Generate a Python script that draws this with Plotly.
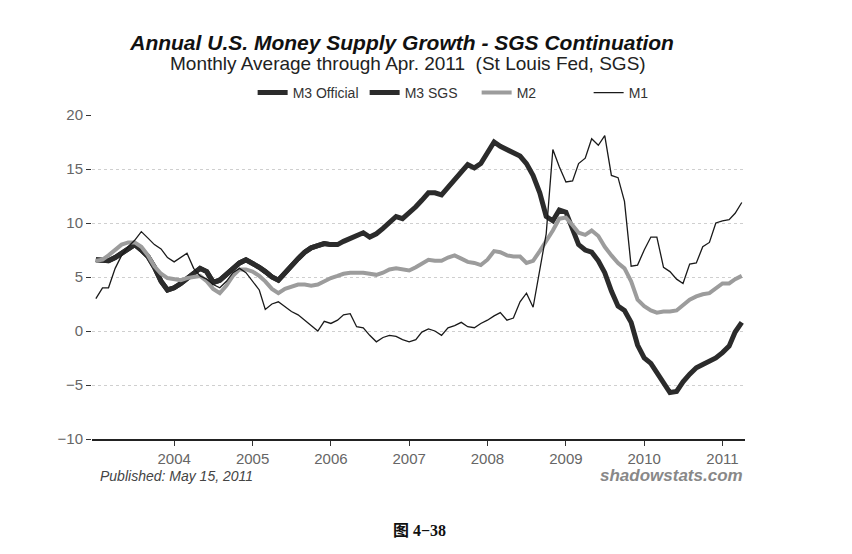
import pandas as pd
import plotly.graph_objects as go

# monthly, Jan 2003 .. Apr 2011, annual growth in percent
months = pd.date_range("2003-01-01", periods=100, freq="MS")

m3_sgs = [
    6.6, 6.5, 6.5, 6.8, 7.2, 7.7, 8.0, 7.5, 6.9, 5.9, 4.6, 3.8,
    4.0, 4.4, 4.9, 5.3, 5.8, 5.5, 4.5, 4.7, 5.2, 5.8, 6.3, 6.6,
    6.3, 5.9, 5.5, 5.0, 4.7, 5.4, 6.0, 6.7, 7.3, 7.7, 7.9, 8.1,
    8.0, 8.0, 8.3, 8.6, 8.8, 9.1, 8.7, 9.0, 9.5, 10.0, 10.6, 10.4,
    10.9, 11.5, 12.1, 12.8, 12.8, 12.6, 13.3, 14.0, 14.7, 15.4, 15.1, 15.5,
    16.5, 17.5, 17.1, 16.8, 16.5, 16.2, 15.5, 14.4, 12.8, 10.6, 10.2, 11.2,
    11.0, 9.4, 8.0, 7.5, 7.3, 6.5, 5.4, 3.7, 2.3, 1.9, 0.8, -1.3,
    -2.5, -3.0, -3.9, -4.9, -5.7, -5.6, -4.7, -4.0, -3.4, -3.1, -2.8, -2.5,
    -2.0, -1.4, -0.1, 0.8,
]
# official M3 was discontinued after Feb 2006
m3_official = m3_sgs[:38]

m2 = [
    6.5, 6.6, 7.0, 7.5, 8.0, 8.2, 8.2, 7.8, 7.0, 6.0, 5.3, 4.9,
    4.8, 4.7, 4.9, 5.0, 5.1, 4.6, 3.9, 3.5, 4.2, 5.1, 5.7, 5.7,
    5.5, 5.1, 4.6, 3.9, 3.5, 3.9, 4.1, 4.3, 4.3, 4.2, 4.3, 4.6,
    4.9, 5.1, 5.3, 5.4, 5.4, 5.4, 5.3, 5.2, 5.4, 5.7, 5.8, 5.7,
    5.6, 5.9, 6.2, 6.6, 6.5, 6.5, 6.8, 7.0, 6.7, 6.4, 6.3, 6.1,
    6.6, 7.4, 7.3, 7.0, 6.9, 6.9, 6.3, 6.5, 7.4, 8.3, 9.3, 10.4,
    10.5, 9.8, 9.1, 8.9, 9.3, 8.8, 7.8, 7.0, 6.3, 5.8, 4.6, 2.9,
    2.3, 1.9, 1.7, 1.8, 1.8, 1.9, 2.4, 2.9, 3.2, 3.4, 3.5, 4.0,
    4.4, 4.4, 4.8, 5.1,
]

m1 = [
    3.0, 4.0, 4.0, 5.8, 7.0, 7.8, 8.4, 9.2, 8.6, 8.0, 7.6, 6.8,
    6.4, 6.8, 7.2, 5.8, 5.1, 4.8, 4.3, 4.0, 4.6, 5.4, 5.8, 5.4,
    4.6, 3.8, 2.0, 2.5, 2.7, 2.2, 1.8, 1.5, 1.0, 0.5, 0.0, 0.9,
    0.7, 1.0, 1.5, 1.6, 0.4, 0.3, -0.4, -1.0, -0.6, -0.4, -0.5, -0.8,
    -1.0, -0.8, -0.1, 0.2, 0.0, -0.4, 0.3, 0.5, 0.8, 0.4, 0.3, 0.7,
    1.0, 1.4, 1.7, 1.0, 1.2, 2.7, 3.5, 2.2, 5.5, 9.0, 16.8, 15.2,
    13.8, 13.9, 15.5, 16.0, 17.8, 17.2, 18.1, 14.4, 14.2, 12.0, 6.0, 6.1,
    7.5, 8.7, 8.7, 5.9, 5.5, 4.8, 4.4, 6.2, 6.3, 7.8, 8.2, 10.0,
    10.2, 10.3, 10.9, 11.9,
]

year_ticks = [f"{y}-01-01" for y in range(2004, 2012)]
year_labels = [str(y) for y in range(2004, 2012)]

fig = go.Figure()
fig.add_trace(go.Scatter(x=months[:len(m3_official)], y=m3_official, name="M3 Official",
                         mode="lines", line=dict(color="#2b2b2b", width=5)))
fig.add_trace(go.Scatter(x=months, y=m3_sgs, name="M3 SGS",
                         mode="lines", line=dict(color="#2b2b2b", width=5)))
fig.add_trace(go.Scatter(x=months, y=m2, name="M2",
                         mode="lines", line=dict(color="#9c9c9c", width=4)))
fig.add_trace(go.Scatter(x=months, y=m1, name="M1",
                         mode="lines", line=dict(color="#1a1a1a", width=1.3)))

fig.update_xaxes(
    range=["2002-12-14", "2011-04-16"],
    tickvals=year_ticks, ticktext=year_labels,
    ticks="outside", ticklen=5, tickcolor="#333",
    showline=True, linecolor="#222", linewidth=1.5,
    showgrid=False, tickfont=dict(size=15, color="#666"),
)
fig.update_yaxes(
    range=[-10, 20], dtick=5,
    ticks="outside", ticklen=5, tickcolor="#333",
    showgrid=True, gridcolor="#cfcfcf", griddash="dot",
    zeroline=False, showline=False,
    tickfont=dict(size=15, color="#666"),
)

# the page body adds an 8px offset, so margins are shifted by that amount
fig.update_layout(
    width=852, height=554,
    margin=dict(l=84, r=115, t=107, b=123),
    paper_bgcolor="white", plot_bgcolor="white",
    font=dict(family="Liberation Sans, Arial, sans-serif", color="#222"),
    title=dict(text="<b><i>Annual U.S. Money Supply Growth - SGS Continuation</i></b>",
               x=0.4625, xanchor="center", y=0.937, yanchor="middle",
               font=dict(size=21, color="#111")),
    legend=dict(orientation="h", x=0.246, xanchor="left", y=1.068, yanchor="middle",
                font=dict(size=14, color="#333"), entrywidth=67,
                bgcolor="rgba(0,0,0,0)"),
    annotations=[
        dict(text="Monthly Average through Apr. 2011  (St Louis Fed, SGS)",
             xref="paper", yref="paper", x=0.484, y=1.16, yanchor="middle",
             showarrow=False, font=dict(size=19, color="#222")),
        dict(text="<i>Published: May 15, 2011</i>",
             xref="paper", yref="paper", x=0.009, xanchor="left", y=-0.114, yanchor="middle",
             showarrow=False, font=dict(size=14, color="#444")),
        dict(text="<b><i>shadowstats.com</i></b>",
             xref="paper", yref="paper", x=1.0, xanchor="right", y=-0.112, yanchor="middle",
             showarrow=False, font=dict(size=17, color="#888")),
        dict(text="<b>图 4−38</b>",
             xref="paper", yref="paper", x=0.502, y=-0.281, yanchor="middle",
             showarrow=False,
             font=dict(size=16, color="#111",
                       family="Liberation Serif, Noto Sans CJK SC, serif")),
    ],
)

fig.write_html("out.html")
